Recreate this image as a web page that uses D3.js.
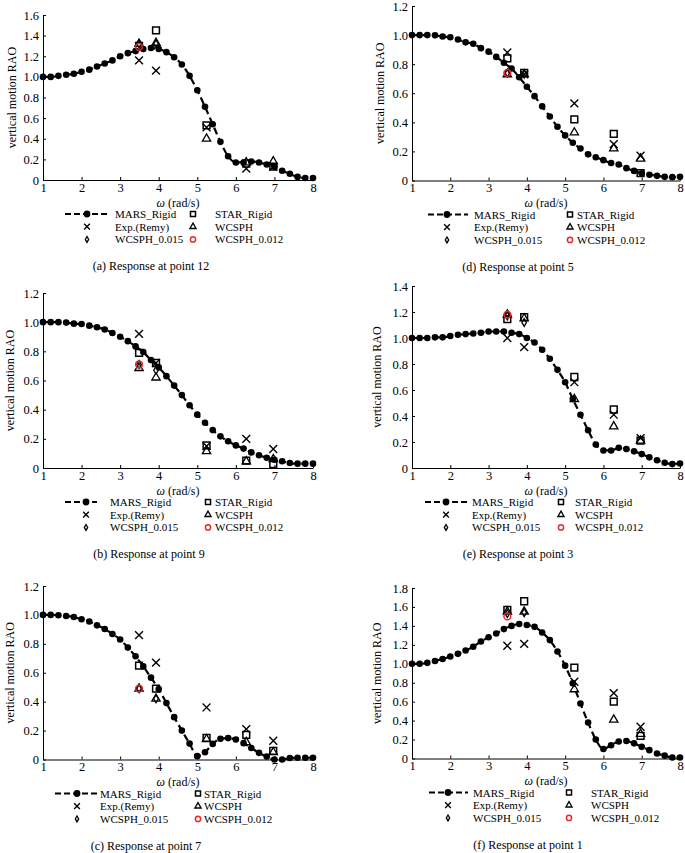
<!DOCTYPE html>
<html>
<head>
<meta charset="utf-8">
<script src="https://cdn.jsdelivr.net/npm/d3@7"></script>
<style>
  body { margin: 0; background: #fff; }
  svg text { font-family: "Liberation Serif", "Times New Roman", serif; fill: #000; }
  .axis path, .axis line { stroke: #000; stroke-width: 1; }
</style>
</head>
<body>
<svg id="chart" width="685" height="853"></svg>
<script>
// frequencies of the MARS curve (rad/s)
const omega = [1.0, 1.2, 1.4, 1.6, 1.8, 2.0, 2.2, 2.4, 2.6, 2.8, 3.0, 3.2, 3.4, 3.6, 3.8, 4.0, 4.2, 4.4,
  4.6, 4.8, 5.0, 5.2, 5.4, 5.6, 5.8, 6.0, 6.2, 6.4, 6.6, 6.8, 7.0, 7.2, 7.4, 7.6, 7.8, 8.0];
// frequencies of the tested / simulated waves
const expOmega = [3.49, 3.93, 5.24, 6.27, 6.97];
const simOmega = [3.49, 3.93];
const xTicks = [1, 2, 3, 4, 5, 6, 7, 8];
const yTicks12 = [0, 0.2, 0.4, 0.6, 0.8, 1.0, 1.2];
const yTicks14 = [0, 0.2, 0.4, 0.6, 0.8, 1.0, 1.2, 1.4];
const yTicks16 = [0, 0.2, 0.4, 0.6, 0.8, 1.0, 1.2, 1.4, 1.6];
const yTicks18 = [0, 0.2, 0.4, 0.6, 0.8, 1.0, 1.2, 1.4, 1.6, 1.8];
const seriesNames = ["MARS_Rigid", "STAR_Rigid", "Exp.(Remy)", "WCSPH", "WCSPH_0.015", "WCSPH_0.012"];

// (a) point 12
const marsA = [1.00, 1.00, 1.01, 1.02, 1.03, 1.05, 1.07, 1.10, 1.13, 1.16, 1.20, 1.23, 1.25, 1.27, 1.28, 1.27, 1.24, 1.19,
  1.12, 1.01, 0.87, 0.71, 0.54, 0.37, 0.23, 0.17, 0.17, 0.18, 0.17, 0.15, 0.13, 0.09, 0.06, 0.03, 0.02, 0.02];
const expA = [1.16, 1.06, 0.51, 0.11, 0.13];
const starA = [1.30, 1.45, 0.53, 0.16, 0.13];
const wcsphA = [1.32, 1.33, 0.40, 0.17, 0.18];
const w015A = [1.32, 1.32];
const w012A = [1.29];

// (d) point 5
const marsD = [1.00, 1.00, 1.00, 0.998, 0.99, 0.985, 0.97, 0.95, 0.94, 0.91, 0.886, 0.85, 0.81, 0.77, 0.71, 0.645, 0.58, 0.51,
  0.44, 0.37, 0.31, 0.26, 0.22, 0.18, 0.16, 0.14, 0.12, 0.11, 0.085, 0.066, 0.05, 0.04, 0.032, 0.025, 0.023, 0.025];
const expD = [0.88, 0.73, 0.53, 0.25, 0.17];
const starD = [0.84, 0.74, 0.42, 0.32, 0.05];
const wcsphD = [0.73, 0.73, 0.33, 0.22, 0.15];
const w015D = [0.74, 0.73];
const w012D = [0.74];

// (b) point 9
const marsB = [1.00, 1.00, 1.00, 0.997, 0.99, 0.987, 0.976, 0.965, 0.95, 0.926, 0.90, 0.87, 0.834, 0.795, 0.74, 0.69, 0.63, 0.565,
  0.50, 0.43, 0.366, 0.31, 0.26, 0.217, 0.183, 0.155, 0.133, 0.107, 0.087, 0.07, 0.057, 0.046, 0.034, 0.03, 0.03, 0.03];
const expB = [0.92, 0.72, 0.15, 0.20, 0.13];
const starB = [0.79, 0.72, 0.155, 0.05, 0.027];
const wcsphB = [0.685, 0.62, 0.115, 0.045, 0.06];
const w015B = [0.71, 0.67];
const w012B = [0.71];

// (e) point 3
const marsE = [1.00, 1.00, 1.00, 1.005, 1.005, 1.015, 1.025, 1.03, 1.035, 1.04, 1.05, 1.05, 1.05, 1.04, 1.03, 1.00, 0.965, 0.91,
  0.84, 0.755, 0.66, 0.53, 0.41, 0.29, 0.18, 0.135, 0.135, 0.155, 0.146, 0.128, 0.107, 0.082, 0.06, 0.04, 0.03, 0.035];
const expE = [1.00, 0.93, 0.66, 0.41, 0.23];
const starE = [1.145, 1.16, 0.70, 0.45, 0.21];
const wcsphE = [1.18, 1.15, 0.53, 0.32, 0.21];
const w015E = [1.17, 1.12];
const w012E = [1.18];

// (c) point 7
const marsC = [1.00, 1.00, 0.998, 0.993, 0.986, 0.97, 0.954, 0.928, 0.903, 0.868, 0.83, 0.774, 0.714, 0.644, 0.566, 0.487, 0.39, 0.293,
  0.20, 0.11, 0.023, 0.05, 0.108, 0.143, 0.148, 0.138, 0.113, 0.08, 0.046, 0.02, 0.0, 0.0, 0.01, 0.012, 0.012, 0.012];
const expC = [0.86, 0.67, 0.36, 0.21, 0.13];
const starC = [0.65, 0.49, 0.15, 0.17, 0.06];
const wcsphC = [0.49, 0.42, 0.14, 0.12, 0.05];
const w015C = [0.49, 0.42];
const w012C = [0.49];

// (f) point 1
const marsF = [1.00, 1.00, 1.01, 1.03, 1.05, 1.077, 1.105, 1.14, 1.18, 1.235, 1.28, 1.32, 1.366, 1.40, 1.42, 1.41, 1.39, 1.33,
  1.25, 1.13, 0.98, 0.795, 0.58, 0.38, 0.20, 0.10, 0.14, 0.18, 0.185, 0.16, 0.123, 0.088, 0.053, 0.03, 0.01, 0.01];
const expF = [1.19, 1.21, 0.81, 0.69, 0.335];
const starF = [1.57, 1.66, 0.96, 0.60, 0.24];
const wcsphF = [1.55, 1.55, 0.73, 0.41, 0.26];
const w015F = [1.53, 1.54];
const w012F = [1.50];

// panel layout (pixel positions only)
const panels = [
  { mars: marsA, exp: expA, star: starA, wcsph: wcsphA, w015: w015A, w012: w012A, yTicks: yTicks16,
    x0: 43, x1: 313, yTop: 15, yBot: 180, ylabX: 12, lg: [22, 65, 44, 72, 150, 172], capX: 151,
    caption: "(a) Response at point 12" },
  { mars: marsD, exp: expD, star: starD, wcsph: wcsphD, w015: w015D, w012: w012D, yTicks: yTicks12,
    x0: 412, x1: 680, yTop: 6, yBot: 180.5, ylabX: 380, lg: [16, 56, 35, 62, 158, 165], capX: 518,
    caption: "(d) Response at point 5" },
  { mars: marsB, exp: expB, star: starB, wcsph: wcsphB, w015: w015B, w012: w012B, yTicks: yTicks12,
    x0: 43, x1: 313, yTop: 293, yBot: 468, ylabX: 10, lg: [22, 54, 43, 67, 165, 172], capX: 149,
    caption: "(b) Response at point 9" },
  { mars: marsE, exp: expE, star: starE, wcsph: wcsphE, w015: w015E, w012: w012E, yTicks: yTicks14,
    x0: 412, x1: 680, yTop: 286, yBot: 468, ylabX: 377, lg: [13, 55, 34, 60, 149, 163], capX: 518,
    caption: "(e) Response at point 3" },
  { mars: marsC, exp: expC, star: starC, wcsph: wcsphC, w015: w015C, w012: w012C, yTicks: yTicks12,
    x0: 43, x1: 313, yTop: 586, yBot: 759.5, ylabX: 10, lg: [12, 54, 34, 57, 155, 161], capX: 146,
    caption: "(c) Response at point 7" },
  { mars: marsF, exp: expF, star: starF, wcsph: wcsphF, w015: w015F, w012: w012F, yTicks: yTicks18,
    x0: 412, x1: 680, yTop: 588, yBot: 758.5, ylabX: 377, lg: [17, 56, 36, 61, 157, 179], capX: 528,
    caption: "(f) Response at point 1" }
];

const svg = d3.select("#chart");
const RED = "#e8282b";

const symStar = d3.symbol().type(d3.symbolSquare);
const symTri = d3.symbol().type(d3.symbolTriangle);
const symX = d3.symbol().type(d3.symbolTimes);
const symDia = d3.symbol().type(d3.symbolDiamond);

function drawMarker(g, kind, cx, cy, small) {
  const s = small ? 0.55 : 1;
  if (kind === "star") {
    g.append("path").attr("d", symStar.size(46 * s)()).attr("transform", `translate(${cx},${cy})`)
      .attr("fill", "none").attr("stroke", "#000").attr("stroke-width", 1.5);
  } else if (kind === "wcsph") {
    g.append("path").attr("d", symTri.size(30 * s)()).attr("transform", `translate(${cx},${cy})`)
      .attr("fill", "none").attr("stroke", "#000").attr("stroke-width", 1.3);
  } else if (kind === "exp") {
    g.append("path").attr("d", symX.size(42 * s)()).attr("transform", `translate(${cx},${cy})`)
      .attr("fill", "none").attr("stroke", "#000").attr("stroke-width", 1.4);
  } else if (kind === "w015") {
    g.append("path").attr("d", symDia.size(18 * s)()).attr("transform", `translate(${cx},${cy})`)
      .attr("fill", "none").attr("stroke", "#000").attr("stroke-width", 1.3);
  } else if (kind === "w012") {
    g.append("circle").attr("cx", cx).attr("cy", cy).attr("r", small ? 2.6 : 3.4)
      .attr("fill", "none").attr("stroke", RED).attr("stroke-width", 1.5);
  }
}

panels.forEach((p) => {
  const g = svg.append("g");
  const x = d3.scaleLinear().domain([1, 8]).range([p.x0, p.x1]);
  const y = d3.scaleLinear().domain([0, d3.max(p.yTicks)]).range([p.yBot, p.yTop]);

  g.append("g")
    .attr("class", "axis")
    .attr("transform", `translate(0,${p.yBot})`)
    .call(d3.axisBottom(x).tickValues(xTicks).tickFormat(d3.format("d"))
      .tickSizeInner(-3).tickSizeOuter(0).tickPadding(3))
    .attr("font-size", 12.5);

  g.append("g")
    .attr("class", "axis")
    .attr("transform", `translate(${p.x0},0)`)
    .call(d3.axisLeft(y).tickValues(p.yTicks)
      .tickFormat((d) => (d === 0 ? "0" : d3.format(".1f")(d)))
      .tickSizeInner(-3).tickSizeOuter(0).tickPadding(4))
    .attr("font-size", 12.5);

  // y label
  g.append("text")
    .attr("transform", `translate(${p.ylabX + 4},${(p.yTop + p.yBot) / 2}) rotate(-90)`)
    .attr("text-anchor", "middle")
    .attr("font-size", 12)
    .text("vertical motion RAO");

  // x label
  const xl = g.append("text")
    .attr("x", (p.x0 + p.x1) / 2)
    .attr("y", p.yBot + 26.5)
    .attr("text-anchor", "middle")
    .attr("font-size", 12);
  xl.append("tspan").attr("font-style", "italic").text("ω");
  xl.append("tspan").text(" (rad/s)");

  // MARS curve
  const pts = omega.map((w, i) => [w, p.mars[i]]);
  g.append("path")
    .datum(pts)
    .attr("fill", "none")
    .attr("stroke", "#000")
    .attr("stroke-width", 2.2)
    .attr("stroke-dasharray", "7,4")
    .attr("d", d3.line().curve(d3.curveMonotoneX).x((d) => x(d[0])).y((d) => y(d[1])));
  g.selectAll(".dot")
    .data(pts)
    .enter()
    .append("circle")
    .attr("cx", (d) => x(d[0]))
    .attr("cy", (d) => y(d[1]))
    .attr("r", 3.3)
    .attr("fill", "#000");

  // discrete results
  p.star.forEach((v, i) => drawMarker(g, "star", x(expOmega[i]), y(v)));
  p.wcsph.forEach((v, i) => drawMarker(g, "wcsph", x(expOmega[i]), y(v)));
  p.exp.forEach((v, i) => drawMarker(g, "exp", x(expOmega[i]), y(v)));
  p.w015.forEach((v, i) => drawMarker(g, "w015", x(simOmega[i]), y(v)));
  p.w012.forEach((v, i) => drawMarker(g, "w012", x(simOmega[i]), y(v)));

  // legend
  const [l0, l1, lm, lt, m2, t2] = p.lg.map((v) => p.x0 + v);
  const rows = [p.yBot + 34, p.yBot + 46.7, p.yBot + 59.4];
  g.append("line")
    .attr("x1", l0).attr("x2", l1).attr("y1", rows[0]).attr("y2", rows[0])
    .attr("stroke", "#000").attr("stroke-width", 2.2).attr("stroke-dasharray", "6,3");
  g.append("circle").attr("cx", lm).attr("cy", rows[0]).attr("r", 3.4).attr("fill", "#000");
  drawMarker(g, "exp", lm, rows[1], true);
  drawMarker(g, "w015", lm, rows[2], true);
  drawMarker(g, "star", m2, rows[0], true);
  drawMarker(g, "wcsph", m2, rows[1], true);
  drawMarker(g, "w012", m2, rows[2], true);
  const leftNames = [seriesNames[0], seriesNames[2], seriesNames[4]];
  const rightNames = [seriesNames[1], seriesNames[3], seriesNames[5]];
  leftNames.forEach((t, i) => {
    g.append("text").attr("x", lt).attr("y", rows[i] + 4).attr("font-size", 11).text(t);
  });
  rightNames.forEach((t, i) => {
    g.append("text").attr("x", t2).attr("y", rows[i] + 4).attr("font-size", 11).text(t);
  });

  // caption
  g.append("text")
    .attr("x", p.capX)
    .attr("y", p.yBot + 90)
    .attr("text-anchor", "middle")
    .attr("font-size", 12)
    .text(p.caption);
});
</script>
</body>
</html>
